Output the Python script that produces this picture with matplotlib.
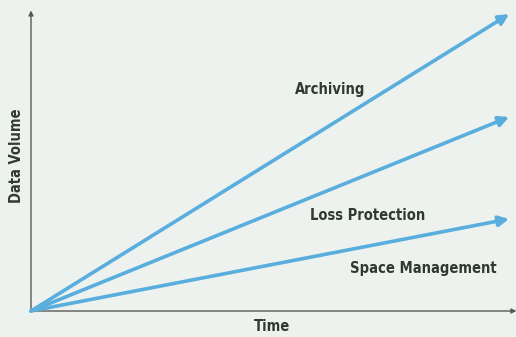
import matplotlib
matplotlib.use('Agg')
import matplotlib.pyplot as plt

# end points of the three growth lines (time, data volume)
series = ['Archiving', 'Loss Protection', 'Space Management']
end_time = [9.9, 9.9, 9.9]
end_volume = [9.93, 6.49, 3.08]
# label positions
label_time = [6.19, 6.97, 8.13]
label_volume = [7.42, 3.2, 1.43]

bg = '#edf2ee'
line_col = '#5aaedd'
text_col = '#2e3a33'
font = ['DejaVu Sans']

fig = plt.figure(figsize=(5.16, 3.37), dpi=100, facecolor=bg)
ax = fig.add_axes([31 / 516, 26 / 337, 483 / 516, 299 / 337])
ax.set_facecolor(bg)
ax.set_xlim(0, 10)
ax.set_ylim(0, 10)
for s in ax.spines.values():
    s.set_visible(False)
ax.set_xticks([])
ax.set_yticks([])

# axes with arrow heads
ax.annotate('', xy=(10.05, 0), xytext=(0, 0),
            arrowprops=dict(arrowstyle='-|>', color='#555a57', lw=1.0,
                            mutation_scale=7, shrinkA=0, shrinkB=0),
            annotation_clip=False)
ax.annotate('', xy=(0, 10.05), xytext=(0, 0),
            arrowprops=dict(arrowstyle='-|>', color='#555a57', lw=1.0,
                            mutation_scale=7, shrinkA=0, shrinkB=0),
            annotation_clip=False)

for name, t, v, lt, lv in zip(series, end_time, end_volume, label_time, label_volume):
    ax.annotate('', xy=(t, v), xytext=(0, 0),
                arrowprops=dict(arrowstyle='-|>', color=line_col, lw=2.6,
                                mutation_scale=15, shrinkA=0, shrinkB=0),
                annotation_clip=False)
    ax.text(lt, lv, name, ha='center', va='center', fontsize=10.5,
            fontweight='bold', fontstretch='condensed', color=text_col, family=font)

ax.text(5.0, -0.53, 'Time', ha='center', va='center', fontsize=10.5,
        fontweight='bold', fontstretch='condensed', color=text_col, family=font, clip_on=False)
ax.text(-0.31, 5.2, 'Data Volume', ha='center', va='center', fontsize=10.5,
        fontweight='bold', fontstretch='condensed', color=text_col, family=font,
        rotation=90, clip_on=False)

fig.savefig('out.png', dpi=100, facecolor=bg)
